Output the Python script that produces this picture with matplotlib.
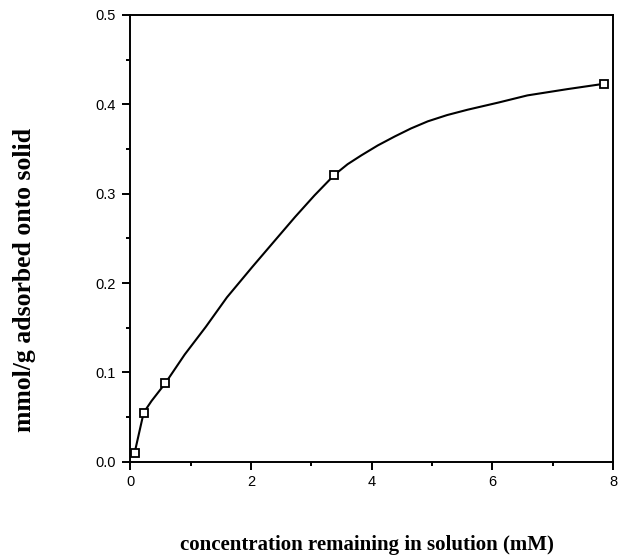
import matplotlib
matplotlib.use("Agg")
import matplotlib.pyplot as plt
from matplotlib.ticker import MultipleLocator

# measured points (open squares)
conc = [0.07, 0.22, 0.58, 3.38, 7.85]
adsorbed = [0.010, 0.055, 0.088, 0.321, 0.423]

# hand-drawn smooth curve
curve_x = [0.07, 0.22, 0.35, 0.58, 0.9, 1.25, 1.6, 2.02, 2.4, 2.73, 3.05, 3.38,
           3.6, 3.83, 4.1, 4.38, 4.65, 4.93, 5.25, 5.59, 6.1, 6.58, 7.24, 7.85]
curve_y = [0.010, 0.055, 0.068, 0.088, 0.120, 0.151, 0.184, 0.218, 0.248, 0.274,
           0.298, 0.321, 0.333, 0.343, 0.354, 0.364, 0.373, 0.381, 0.388, 0.394,
           0.402, 0.410, 0.417, 0.423]

fig = plt.figure(figsize=(6.18, 5.55), dpi=100)
# left spine ~x=130px, right ~613px, bottom ~462px, top ~15px
ax = fig.add_axes([0.211, 0.168, 0.781, 0.805])

ax.plot(curve_x, curve_y, color="black", lw=1.5, zorder=2)
ax.plot(conc, adsorbed, ls="none", marker="s", ms=5.5, mfc="white",
        mec="black", mew=1.3, zorder=3)

ax.set_xlim(0, 8)
ax.set_ylim(0, 0.5)
ax.xaxis.set_major_locator(MultipleLocator(2))
ax.xaxis.set_minor_locator(MultipleLocator(1))
ax.yaxis.set_major_locator(MultipleLocator(0.1))
ax.yaxis.set_minor_locator(MultipleLocator(0.05))
ax.yaxis.set_major_formatter(plt.FormatStrFormatter("%.1f"))

ax.tick_params(which="both", direction="out", width=1.4, labelsize=10.5,
               top=False, right=False)
ax.tick_params(which="major", length=5.5)
ax.tick_params(axis="y", which="major", pad=5)
ax.tick_params(axis="x", which="major", pad=4)
ax.tick_params(which="minor", length=3)
for lab in ax.get_xticklabels() + ax.get_yticklabels():
    lab.set_family("Liberation Sans")
for s in ax.spines.values():
    s.set_linewidth(1.4)

serif = dict(family="Liberation Serif", fontweight="bold")
fig.text(0.593, 0.018, "concentration remaining in solution (mM)",
         ha="center", va="center", fontsize=15, **serif)
fig.text(0.040, 0.495, "mmol/g adsorbed onto solid", rotation=90,
         ha="center", va="center", fontsize=18.5, **serif)

fig.savefig("out.png", dpi=100)
